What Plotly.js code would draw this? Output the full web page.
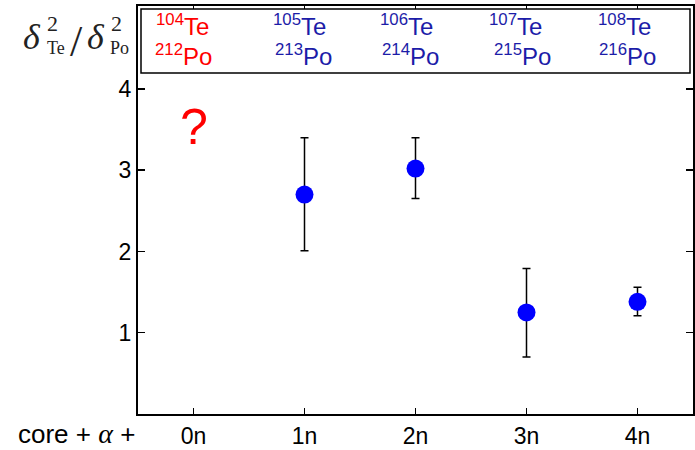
<!DOCTYPE html>
<html>
<head>
<meta charset="utf-8">
<script src="https://cdn.plot.ly/plotly-3.0.1.min.js"></script>
<style>html,body{margin:0;padding:0;background:#fff}#chart{width:695px;height:450px}</style>
</head>
<body>
<div id="chart"></div>
<script>
const categories = ["0n", "1n", "2n", "3n", "4n"];
const xPos = [1, 2, 3, 4];
const ratio = [2.70, 3.02, 1.25, 1.38];
const errPlus = [0.70, 0.38, 0.54, 0.18];
const errMinus = [0.69, 0.37, 0.55, 0.17];
const teMass = ["104", "105", "106", "107", "108"];
const poMass = ["212", "213", "214", "215", "216"];
const labelColors = ["#ff0000", "#1c1ca8", "#1c1ca8", "#1c1ca8", "#1c1ca8"];
const teLeft = [154, 271, 378, 487, 596];
const poLeft = [153, 273, 380, 492, 597];

const L = 138, W = 555, T = 6, H = 408;
const px = v => (v - L) / W;
const py = v => 1 - (v - T) / H;

const ann = [];
for (let i = 0; i < teMass.length; i++) {
  ann.push({xref:'paper', yref:'paper', x:px(teLeft[i]), y:py(25), xanchor:'left', yanchor:'middle', showarrow:false,
    text:'<sup>'+teMass[i]+'</sup>Te', font:{family:'Liberation Sans, Arial', size:24, color:labelColors[i]}});
  ann.push({xref:'paper', yref:'paper', x:px(poLeft[i]), y:py(55), xanchor:'left', yanchor:'middle', showarrow:false,
    text:'<sup>'+poMass[i]+'</sup>Po', font:{family:'Liberation Sans, Arial', size:24, color:labelColors[i]}});
}
// question mark
ann.push({xref:'x', yref:'y', x:0, y:3.53, xanchor:'center', yanchor:'middle', showarrow:false, text:'?', font:{family:'Liberation Sans, Arial', size:50, color:'#ff0000'}});
// y title pieces
const pf = 'Liberation Serif, Times New Roman, serif';
const tc = '#222';
ann.push({xref:'paper', yref:'paper', x:px(21), y:py(37), xanchor:'left', yanchor:'middle', showarrow:false, text:'<i>δ</i>', font:{family:pf, size:36, color:tc}});
ann.push({xref:'paper', yref:'paper', x:px(45), y:py(24), xanchor:'left', yanchor:'middle', showarrow:false, text:'2', font:{family:pf, size:22, color:tc}});
ann.push({xref:'paper', yref:'paper', x:px(45), y:py(48), xanchor:'left', yanchor:'middle', showarrow:false, text:'Te', font:{family:pf, size:18, color:tc}});
ann.push({xref:'paper', yref:'paper', x:px(68), y:py(41), xanchor:'left', yanchor:'middle', showarrow:false, text:'/', font:{family:pf, size:44, color:tc}});
ann.push({xref:'paper', yref:'paper', x:px(85), y:py(37), xanchor:'left', yanchor:'middle', showarrow:false, text:'<i>δ</i>', font:{family:pf, size:36, color:tc}});
ann.push({xref:'paper', yref:'paper', x:px(109), y:py(24), xanchor:'left', yanchor:'middle', showarrow:false, text:'2', font:{family:pf, size:22, color:tc}});
ann.push({xref:'paper', yref:'paper', x:px(108), y:py(48), xanchor:'left', yanchor:'middle', showarrow:false, text:'Po', font:{family:pf, size:18, color:tc}});
// x label prefix
ann.push({xref:'paper', yref:'paper', x:px(16), y:py(433), xanchor:'left', yanchor:'middle', showarrow:false,
  text:'core + <span style="font-family:Liberation Serif, Times New Roman, serif;font-style:italic;font-size:28px">α</span> +', font:{family:'Liberation Sans, Arial', size:26, color:'#000'}});

const trace = {
  x: xPos, y: ratio, type:'scatter', mode:'markers',
  marker:{color:'#0000ff', size:18, symbol:'circle'},
  error_y:{type:'data', symmetric:false, array:errPlus, arrayminus:errMinus, color:'#000', thickness:1.5, width:4},
  showlegend:false, hoverinfo:'skip'
};

const layout = {
  width:695, height:450,
  margin:{l:138, r:2, t:6, b:36},
  paper_bgcolor:'#fff', plot_bgcolor:'#fff',
  xaxis:{range:[-0.5,4.5], tickvals:[0,1,2,3,4], ticktext:categories, showgrid:false, zeroline:false,
    showline:true, linecolor:'#000', linewidth:2, mirror:'ticks', ticks:'inside', ticklen:6, tickwidth:1.5, tickcolor:'#000',
    tickfont:{family:'Liberation Sans Narrow, Arial Narrow, Liberation Sans', size:23, color:'#000'}},
  yaxis:{range:[0,5.02], tickvals:[1,2,3,4], showgrid:false, zeroline:false,
    showline:true, linecolor:'#000', linewidth:2, mirror:'ticks', ticks:'inside', ticklen:7, tickwidth:1.5, tickcolor:'#000',
    tickfont:{family:'Liberation Sans, Arial', size:23, color:'#000'}},
  shapes:[{type:'rect', xref:'paper', yref:'paper', x0:px(141), x1:px(690), y0:py(73), y1:py(9),
    line:{color:'#000', width:1.5}, fillcolor:'#fff', layer:'above'}],
  annotations: ann
};
Plotly.newPlot('chart', [trace], layout, {displayModeBar:false, staticPlot:true});
</script>
</body>
</html>
